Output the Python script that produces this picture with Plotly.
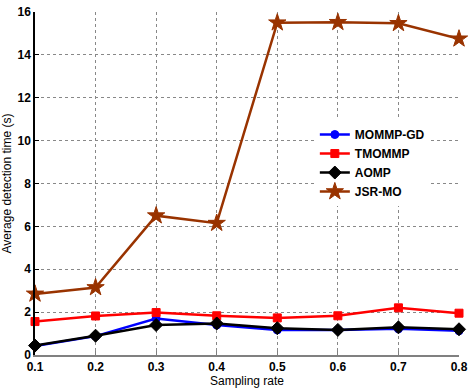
import plotly.graph_objects as go

sampling_rate = [0.1, 0.2, 0.3, 0.4, 0.5, 0.6, 0.7, 0.8]
mommp_gd = [0.42, 0.88, 1.70, 1.40, 1.17, 1.17, 1.22, 1.13]
tmommp = [1.56, 1.82, 1.98, 1.83, 1.73, 1.83, 2.20, 1.95]
aomp = [0.44, 0.90, 1.40, 1.47, 1.25, 1.17, 1.29, 1.20]
jsr_mo = [2.85, 3.15, 6.50, 6.15, 15.50, 15.52, 15.47, 14.75]

x_ticks = [0.1, 0.2, 0.3, 0.4, 0.5, 0.6, 0.7, 0.8]
y_ticks = [0, 2, 4, 6, 8, 10, 12, 14, 16]

series = [
    ("MOMMP-GD", mommp_gd, "#0000ff", "circle", 8),
    ("TMOMMP", tmommp, "#ff0000", "square", 8),
    ("AOMP", aomp, "#000000", "diamond", 10),
    ("JSR-MO", jsr_mo, "#993300", "star", 13),
]

fig = go.Figure()
for name, vals, color, sym, size in series:
    fig.add_trace(go.Scatter(
        x=sampling_rate, y=vals, name=name, mode="lines+markers",
        line=dict(color=color, width=2.5),
        marker=dict(symbol=sym, size=size, color=color,
                    line=dict(color=color, width=1)),
        cliponaxis=False,
    ))

font = "Liberation Sans, Arial, sans-serif"
fig.update_layout(
    width=473, height=389,
    margin=dict(l=35, r=8, t=5, b=32),
    paper_bgcolor="white", plot_bgcolor="white",
    font=dict(family=font, size=12, color="black"),
    showlegend=True,
    legend=dict(x=0.66, y=0.685, xanchor="left", yanchor="top",
                bgcolor="white", borderwidth=0,
                font=dict(family=font, size=12, color="black", weight="bold"),
                tracegroupgap=0, itemwidth=30),
    xaxis=dict(
        range=[0.1, 0.8], tickvals=x_ticks,
        ticktext=[f"{v:.1f}" for v in x_ticks],
        showgrid=True, gridcolor="#888888", griddash="dot", gridwidth=1,
        showline=True, linecolor="#808080", linewidth=1.5,
        ticks="inside", ticklen=4, tickcolor="#808080",
        zeroline=False, ticklabeloverflow="allow",
        title=dict(text="Sampling rate", standoff=1,
                   font=dict(family=font, size=12)),
        tickfont=dict(family=font, size=12, weight="bold"),
    ),
    yaxis=dict(
        range=[0, 16], tickvals=y_ticks,
        showgrid=True, gridcolor="#888888", griddash="dot", gridwidth=1,
        showline=True, linecolor="black", linewidth=1.5,
        ticks="inside", ticklen=4, tickcolor="black",
        zeroline=False, ticklabeloverflow="allow",
        title=dict(text="Average detection time (s)", standoff=3,
                   font=dict(family=font, size=12)),
        tickfont=dict(family=font, size=12, weight="bold"),
    ),
)

fig.write_html("out.html", config={"displayModeBar": False},
               post_script="document.body.style.margin='0';document.body.style.padding='0';")
